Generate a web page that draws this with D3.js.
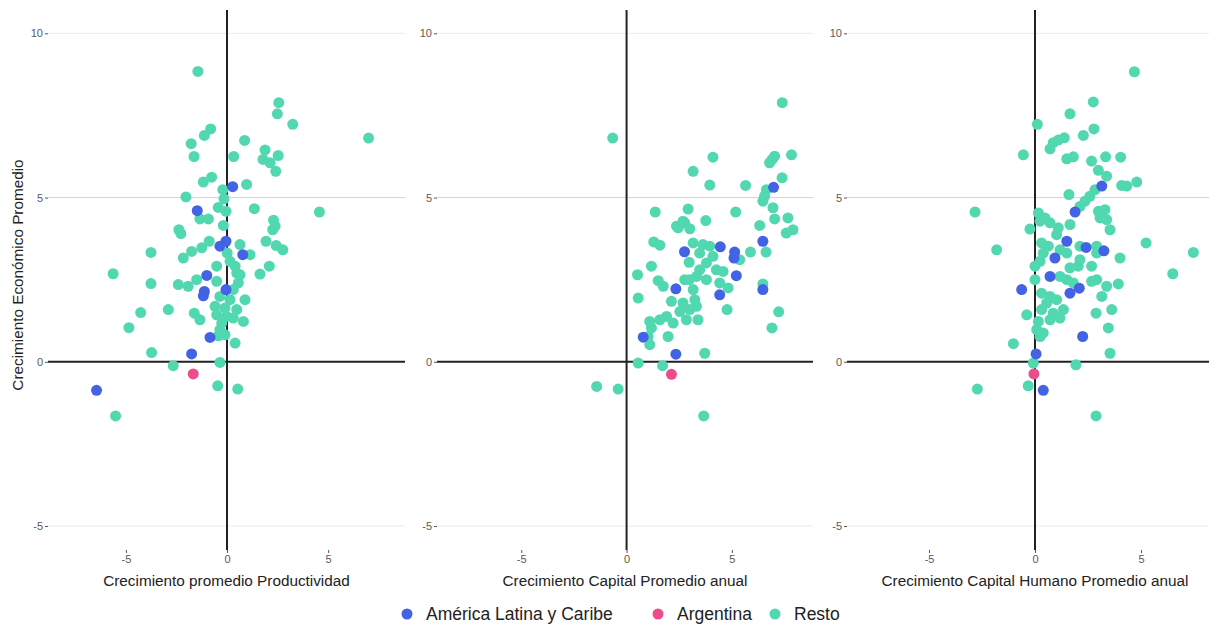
<!DOCTYPE html>
<html>
<head>
<meta charset="utf-8">
<script src="https://d3js.org/d3.v7.min.js"></script>
<style>
    body { margin: 0; background: #fff; }
    svg { font-family: "Liberation Sans", Arial, sans-serif; }
    .titulo { fill: #222; font-size: 15.3px; }
    .leyenda { fill: #222; font-size: 17.5px; }
</style>
</head>
<body>
<svg id="chart" width="1209" height="626"></svg>
<script>
// categorias y ticks
var categorias = ["América Latina y Caribe", "Argentina", "Resto"];
var colores = ["#4163e4", "#ec4c8e", "#52d8b0"];
var yTicks = [-5, 0, 5, 10];
var xTicks = [-5, 0, 5];
var tituloY = "Crecimiento Económico Promedio";

// panel 1: productividad
var prodResto = [[-1.44,8.84],[2.56,7.89],[2.49,7.55],[3.25,7.23],[7.0,6.81],[-0.81,7.09],[-1.12,6.89],[-1.77,6.64],[0.87,6.74],[-1.63,6.25],[0.33,6.25],[1.88,6.45],[2.53,6.28],[1.78,6.16],[2.13,6.06],[2.41,5.80],[-0.76,5.62],[-1.17,5.47],[0.97,5.40],[-0.21,5.24],[-0.15,4.96],[-0.43,4.70],[-0.05,4.58],[-2.03,5.02],[1.35,4.66],[-1.34,4.35],[-0.92,4.35],[-0.18,4.15],[2.30,4.31],[2.38,4.13],[2.26,4.02],[-2.38,4.02],[-2.28,3.90],[4.57,4.56],[1.93,3.67],[2.43,3.54],[2.76,3.41],[-0.88,3.67],[-1.25,3.47],[-1.75,3.36],[-2.16,3.16],[-3.76,3.33],[0.64,3.57],[1.14,3.26],[0.01,3.31],[0.15,3.06],[-0.51,2.91],[2.09,2.91],[1.63,2.67],[0.48,2.70],[-3.76,2.38],[-2.41,2.35],[-1.92,2.30],[-1.50,2.50],[0.89,1.89],[-4.27,1.50],[-2.90,1.59],[-1.62,1.48],[-1.34,1.28],[0.81,1.23],[-0.43,0.79],[0.40,0.57],[-3.73,0.28],[-2.66,-0.12],[-0.35,-0.02],[-0.46,-0.73],[0.53,-0.83],[-4.85,1.04],[-5.51,-1.65],[-5.63,2.68],[0.40,2.91],[0.64,2.65],[0.56,2.40],[-0.51,2.45],[0.31,2.20],[-0.35,1.99],[0.15,1.89],[-0.59,1.69],[-0.10,1.64],[0.48,1.59],[-0.51,1.43],[-0.02,1.38],[-0.26,1.18],[0.31,1.33],[-0.35,0.98],[-0.10,0.82]];
var prodLatam = [[0.28,5.33],[-1.47,4.60],[-0.05,3.67],[-0.35,3.52],[0.78,3.26],[-1.0,2.63],[-1.12,2.14],[-1.17,2.01],[-0.05,2.20],[-0.84,0.74],[-1.75,0.24],[-6.45,-0.87]];
var prodArg = [[-1.67,-0.37]];

// panel 2: capital
var capResto = [[-0.66,6.81],[7.39,7.89],[4.10,6.23],[3.16,5.80],[3.95,5.38],[5.65,5.37],[6.91,6.16],[7.03,6.26],[6.79,6.06],[7.83,6.30],[7.38,5.60],[6.64,5.24],[6.55,5.04],[6.47,4.89],[6.95,4.69],[7.03,4.35],[7.66,4.38],[7.90,4.02],[7.58,3.92],[6.32,4.15],[5.18,4.56],[3.76,4.30],[2.92,4.65],[1.36,4.56],[2.68,4.28],[2.45,4.08],[3.00,4.05],[1.29,3.65],[1.58,3.55],[6.62,3.34],[5.88,3.34],[1.18,2.91],[0.52,2.65],[1.50,2.47],[1.74,2.30],[4.58,2.75],[6.47,2.37],[0.55,1.94],[3.16,3.62],[3.63,3.57],[3.95,3.52],[3.47,3.31],[4.10,3.21],[3.79,3.01],[3.47,2.80],[4.26,2.80],[3.32,2.60],[3.79,2.50],[4.42,2.40],[4.82,2.25],[2.97,2.50],[2.97,3.03],[5.37,3.11],[2.37,4.13],[2.76,4.23],[2.76,2.50],[3.16,2.20],[3.24,1.89],[2.68,1.79],[2.13,1.84],[3.32,1.69],[3.00,1.59],[2.53,1.53],[1.90,1.38],[1.58,1.28],[2.21,1.18],[2.84,1.28],[3.39,1.28],[1.10,1.23],[1.18,1.03],[1.02,0.77],[1.97,0.77],[1.10,0.52],[3.71,0.26],[4.77,1.59],[7.22,1.52],[6.90,1.03],[0.55,-0.04],[1.71,-0.12],[-1.42,-0.75],[-0.40,-0.83],[3.66,-1.65]];
var capLatam = [[6.98,5.31],[6.47,3.67],[2.75,3.35],[4.45,3.50],[5.13,3.34],[5.10,3.16],[5.21,2.62],[2.34,2.22],[4.42,2.04],[6.47,2.20],[0.79,0.75],[2.34,0.23]];
var capArg = [[2.13,-0.38]];

// panel 3: capital humano
var humResto = [[4.69,8.83],[2.75,7.91],[1.65,7.55],[0.11,7.23],[2.78,7.09],[2.28,6.89],[1.38,6.82],[1.10,6.75],[0.86,6.67],[0.71,6.48],[-0.55,6.30],[1.50,6.18],[1.81,6.24],[2.67,6.11],[2.99,5.83],[3.38,5.65],[3.33,6.24],[4.04,6.23],[4.09,5.37],[4.80,5.47],[4.33,5.35],[2.83,5.24],[2.59,5.04],[2.36,4.89],[1.60,5.09],[2.12,4.73],[-2.83,4.56],[0.16,4.53],[0.47,4.38],[0.71,4.23],[0.24,4.28],[-0.24,4.04],[1.65,4.18],[1.10,4.08],[1.02,3.87],[2.99,4.58],[3.30,4.63],[3.07,4.38],[3.38,4.33],[3.54,4.02],[5.24,3.62],[-1.81,3.41],[0.31,3.62],[0.63,3.52],[0.39,3.31],[1.18,3.41],[1.50,3.31],[2.12,3.52],[2.91,3.52],[2.12,3.11],[2.91,3.31],[2.67,2.91],[2.04,2.91],[1.65,2.86],[4.01,3.16],[0.00,2.91],[0.24,3.06],[0.00,2.50],[1.18,2.60],[1.50,2.50],[1.81,2.40],[2.67,2.45],[2.91,2.50],[3.38,2.30],[3.93,2.37],[3.15,1.99],[0.31,2.09],[0.71,1.99],[1.02,1.89],[0.55,1.79],[0.31,1.59],[0.86,1.48],[1.34,1.59],[1.18,1.33],[0.71,1.28],[0.16,1.23],[-0.39,1.43],[0.08,0.98],[0.39,0.88],[0.24,0.77],[3.62,1.59],[2.88,1.48],[3.46,1.03],[-1.02,0.55],[3.54,0.26],[-0.08,-0.04],[1.93,-0.09],[-2.72,-0.83],[-0.32,-0.73],[2.88,-1.65],[7.47,3.33],[6.50,2.68]];
var humLatam = [[3.15,5.35],[1.89,4.56],[1.50,3.67],[0.94,3.16],[2.41,3.48],[3.25,3.38],[0.71,2.60],[-0.63,2.20],[2.09,2.24],[1.65,2.09],[2.25,0.77],[0.05,0.24],[0.39,-0.87]];
var humArg = [[-0.05,-0.37]];

var paneles = [
    {titulo: "Crecimiento promedio Productividad", resto: prodResto, latam: prodLatam, arg: prodArg,
     xdom: [-8.85, 8.8], x0: 48, x1: 405},
    {titulo: "Crecimiento Capital Promedio anual", resto: capResto, latam: capLatam, arg: capArg,
     xdom: [-9.0, 8.85], x0: 437, x1: 813},
    {titulo: "Crecimiento Capital Humano Promedio anual", resto: humResto, latam: humLatam, arg: humArg,
     xdom: [-8.87, 8.87], x0: 847, x1: 1223}
];

var svg = d3.select("#chart");
var top_ = 10, bottom = 550;

var y = d3.scaleLinear().domain([-5.73, 10.71]).range([bottom, top_]);
var fmt = function(d) { return String(d); };   // guion normal, no signo menos unicode

paneles.forEach(function(p) {
    var x = d3.scaleLinear().domain(p.xdom).range([p.x0, p.x1]);
    var g = svg.append("g");

    // gridlines horizontales
    g.selectAll(".grid").data(yTicks.filter(function(t) { return t != 0; }))
        .enter().append("line")
        .attr("x1", p.x0).attr("x2", p.x1)
        .attr("y1", function(d) { return y(d); })
        .attr("y2", function(d) { return y(d); })
        .style("stroke", function(d) { return d == 5 ? "#d4d4d4" : "#ebebeb"; })
        .style("stroke-width", 1);

    // ejes
    var ay = g.append("g")
        .attr("transform", "translate(" + p.x0 + ",0)")
        .call(d3.axisLeft(y).tickValues(yTicks).tickFormat(fmt).tickSize(3).tickPadding(2));
    ay.select(".domain").remove();

    var ax = g.append("g")
        .attr("transform", "translate(0," + bottom + ")")
        .call(d3.axisBottom(x).tickValues(xTicks).tickFormat(fmt).tickSize(3).tickPadding(2));
    ax.select(".domain").remove();

    [ay, ax].forEach(function(a) {
        a.selectAll(".tick line").style("stroke", "#555");
        a.selectAll(".tick text").style("fill", "#5a5a5a").style("font-size", "11px");
    });

    // lineas en cero
    g.append("line")
        .attr("x1", p.x0).attr("x2", p.x1)
        .attr("y1", y(0)).attr("y2", y(0))
        .style("stroke", "#222").style("stroke-width", 2);
    g.append("line")
        .attr("x1", x(0)).attr("x2", x(0))
        .attr("y1", top_).attr("y2", bottom)
        .style("stroke", "#222").style("stroke-width", 2);

    // puntos
    [[p.resto, colores[2]], [p.latam, colores[0]], [p.arg, colores[1]]].forEach(function(s) {
        g.append("g").selectAll("circle").data(s[0])
            .enter().append("circle")
            .attr("cx", function(d) { return x(d[0]); })
            .attr("cy", function(d) { return y(d[1]); })
            .attr("r", 5.5)
            .style("fill", s[1]);
    });

    // titulo x
    g.append("text").attr("class", "titulo")
        .attr("x", (p.x0 + p.x1) / 2).attr("y", 586)
        .attr("text-anchor", "middle")
        .text(p.titulo);
});

// titulo y
svg.append("text").attr("class", "titulo")
    .attr("transform", "translate(23," + ((top_ + bottom) / 2 - 5) + ") rotate(-90)")
    .attr("text-anchor", "middle")
    .text(tituloY);

// leyenda
var leyX = [407, 658, 775];
var ley = svg.append("g");
categorias.forEach(function(c, i) {
    ley.append("circle").attr("cx", leyX[i]).attr("cy", 614).attr("r", 5.5).style("fill", colores[i]);
    ley.append("text").attr("class", "leyenda")
        .attr("x", leyX[i] + 19).attr("y", 620)
        .text(c);
});
</script>
</body>
</html>
